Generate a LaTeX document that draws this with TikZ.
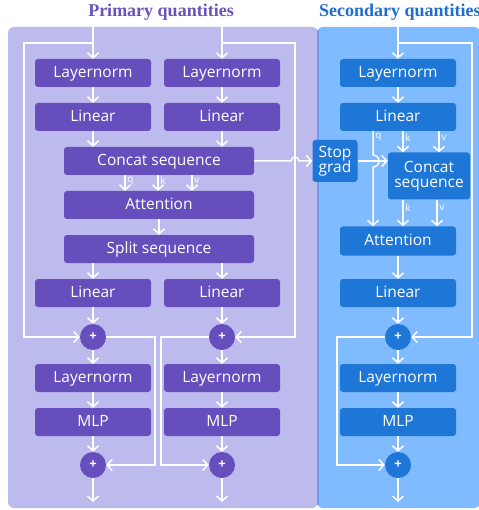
\documentclass[tikz,border=0pt]{standalone}
\usepackage{fontspec}
\setmainfont{Liberation Serif}
\setsansfont{Open Sans}
\usetikzlibrary{arrows.meta}
\definecolor{pbg}{HTML}{BDBBEE}
\definecolor{sbg}{HTML}{80BAFF}
\definecolor{sedge}{HTML}{6E9AF2}
\definecolor{pfill}{HTML}{674EBD}
\definecolor{sfill}{HTML}{1E76D6}
\definecolor{ptext}{HTML}{6952B9}
\definecolor{stext}{HTML}{1E6ED2}

\begin{document}
\begin{tikzpicture}
  [ x=1pt, y=-1pt,
    pbox/.style={rectangle, rounded corners=3pt, fill=pfill, text=white, inner sep=0pt,
      minimum width=116pt, minimum height=28pt, text height=11pt, text depth=2pt,
      font=\sffamily\fontsize{15.5}{18}\selectfont},
    pwide/.style={pbox, minimum width=190pt},
    sbox/.style={pbox, fill=sfill},
    sbig/.style={sbox, align=center, text height=, text depth=},
    padd/.style={circle, fill=pfill, text=white, inner sep=0pt, minimum size=26pt,
      font=\sffamily\bfseries\fontsize{13}{14}\selectfont},
    sadd/.style={padd, fill=sfill},
    lbl/.style={text=white, inner sep=1.5pt, font=\sffamily\fontsize{10}{11}\selectfont},
    ptitle/.style={text=ptext, inner sep=0pt, font=\bfseries\fontsize{18}{20}\selectfont},
    stitle/.style={ptitle, text=stext},
    arr/.style={-{Straight Barb[length=5pt, width=11pt]}, white, line width=1.5pt},
    line1/.style={-, white, line width=1.5pt}
  ]

  \useasboundingbox (0,0) rectangle (478,510);
  \fill[pbg, rounded corners=6pt] (8,27) rectangle (318,508);
  \fill[sbg, rounded corners=6pt] (317,27) rectangle (480,508);
  \draw[sedge, line width=1.5pt] (318,30) -- (318,505);

  \node[ptitle] (tprim) at (161,12) {Primary quantities};
  \node[stitle, anchor=west] (tsec) at (319,12) {Secondary quantities};

  \node[pbox] (lnA) at (93,73) {Layernorm};
  \node[pbox] (lnB) at (222,73) {Layernorm};
  \node[pbox] (linA) at (93,117) {Linear};
  \node[pbox] (linB) at (222,117) {Linear};
  \node[pwide] (concatP) at (159,161) {Concat sequence};
  \node[pwide] (attP) at (159,205) {Attention};
  \node[pwide] (splitP) at (159,249) {Split sequence};
  \node[pbox] (linC) at (93,293) {Linear};
  \node[pbox] (linD) at (222,293) {Linear};
  \node[padd] (addA) at (93,337) {+};
  \node[padd] (addB) at (222,337) {+};
  \node[pbox] (lnC) at (93,378) {Layernorm};
  \node[pbox] (lnD) at (222,378) {Layernorm};
  \node[pbox] (mlpA) at (93,422) {MLP};
  \node[pbox] (mlpB) at (222,422) {MLP};
  \node[padd] (addC) at (93,465) {+};
  \node[padd] (addD) at (222,465) {+};

  \node[sbig, minimum width=45pt, minimum height=42pt] (stopS) at (335,161) {Stop\\[-3pt]grad};
  \node[sbox] (lnS) at (398,73) {Layernorm};
  \node[sbox] (linS) at (398,117) {Linear};
  \node[sbig, minimum width=82pt, minimum height=47pt] (concatS) at (429,176) {Concat\\[-3pt]sequence};
  \node[sbox, minimum height=29pt] (attS) at (398,241) {Attention};
  \node[sbox] (linS2) at (398,293) {Linear};
  \node[sadd] (addS) at (398,337) {+};
  \node[sbox] (lnS2) at (398,378) {Layernorm};
  \node[sbox] (mlpS) at (398,422) {MLP};
  \node[sadd] (addS2) at (398,465) {+};

  \coordinate (inA) at (93,27);
  \coordinate (inB) at (222,27);
  \coordinate (inS) at (398,27);
  \coordinate (brA) at (93,43);
  \coordinate (brB) at (222,43);
  \coordinate (brS) at (398,43);
  \coordinate (rA) at (24,337);
  \coordinate (rB) at (295,337);
  \coordinate (rS) at (472,337);
  \coordinate (rC) at (155,337);
  \coordinate (rD) at (155,465);
  \coordinate (rE) at (161,337);
  \coordinate (rF) at (161,465);
  \coordinate (rS2) at (337,337);
  \coordinate (rS3) at (337,465);
  \coordinate (outA) at (93,502);
  \coordinate (outB) at (222,502);
  \coordinate (outS) at (398,502);
  \coordinate (hp) at (291,161);
  \coordinate (hq) at (373,155);

  \draw[arr] (inA) -- (lnA);
  \draw[arr] (inB) -- (lnB);
  \draw[arr] (lnA) -- (linA);
  \draw[arr] (lnB) -- (linB);
  \draw[arr] (linA) -- (concatP.north -| linA);
  \draw[arr] (linB) -- (concatP.north -| linB);
  \foreach \x/\l in {125/q, 158/k, 192/v}
    \draw[arr] (concatP.south -| \x,0) -- node[lbl, right, pos=0.35] {\l} (attP.north -| \x,0);
  \draw[arr] (attP) -- (splitP);
  \draw[arr] (splitP.south -| linC) -- (linC);
  \draw[arr] (splitP.south -| linD) -- (linD);
  \draw[arr] (linC) -- (addA);
  \draw[arr] (linD) -- (addB);
  \draw[arr] (addA) -- (lnC);
  \draw[arr] (addB) -- (lnD);
  \draw[arr] (lnC) -- (mlpA);
  \draw[arr] (lnD) -- (mlpB);
  \draw[arr] (mlpA) -- (addC);
  \draw[arr] (mlpB) -- (addD);
  \draw[arr] (addC) -- (outA);
  \draw[arr] (addD) -- (outB);

  \draw[arr] (brA) -| (rA) -- (addA);
  \draw[arr] (brB) -| (rB) -- (addB);
  \draw[arr] (addA) -- (rC) -- (rD) -- (addC);
  \draw[arr] (addB) -- (rE) -- (rF) -- (addD);

  \draw[arr] (concatP.east) -- (hp) arc[start angle=180, end angle=0, radius=4pt] -- (stopS.west);
  \draw[arr] (stopS.east) -- (concatS.west |- stopS.east);

  \draw[arr] (inS) -- (lnS);
  \draw[arr] (lnS) -- (linS);
  \draw[arr] (linS.south -| hq) -- node[lbl, right, pos=0.25] {q} (hq) arc[start angle=90, end angle=-90, radius=6pt] -- (attS.north -| hq);
  \draw[arr] (linS.south -| 403,0) -- node[lbl, right, pos=0.3] {k} (concatS.north -| 403,0);
  \draw[arr] (linS.south -| 439,0) -- node[lbl, right, pos=0.3] {v} (concatS.north -| 439,0);
  \draw[arr] (concatS.south -| 403,0) -- node[lbl, right, pos=0.3] {k} (attS.north -| 403,0);
  \draw[arr] (concatS.south -| 437,0) -- node[lbl, right, pos=0.3] {v} (attS.north -| 437,0);
  \draw[arr] (attS) -- (linS2);
  \draw[arr] (linS2) -- (addS);
  \draw[arr] (addS) -- (lnS2);
  \draw[arr] (lnS2) -- (mlpS);
  \draw[arr] (mlpS) -- (addS2);
  \draw[arr] (addS2) -- (outS);
  \draw[arr] (brS) -| (rS) -- (addS);
  \draw[arr] (addS) -- (rS2) -- (rS3) -- (addS2);
\end{tikzpicture}
\end{document}
